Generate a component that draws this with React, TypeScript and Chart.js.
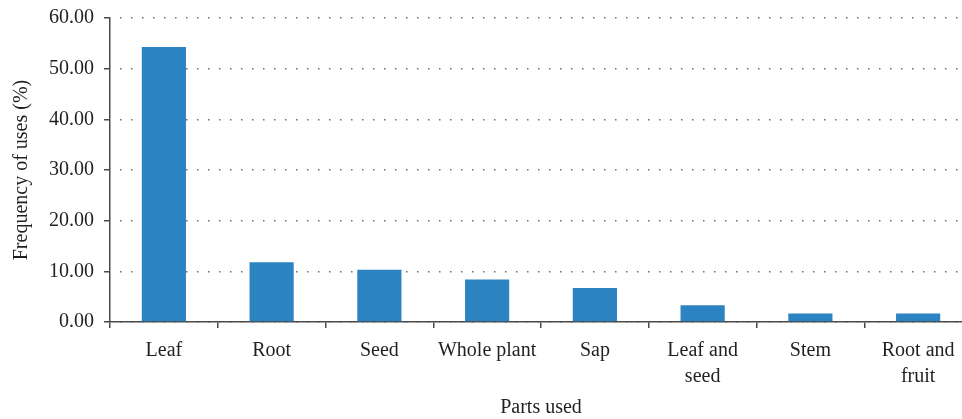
import React, { useEffect, useRef } from "react";
import { Chart, registerables } from "chart.js";

Chart.register(...registerables);

const categories: (string | string[])[] = [
  "Leaf",
  "Root",
  "Seed",
  "Whole plant",
  "Sap",
  ["Leaf and", "seed"],
  "Stem",
  ["Root and", "fruit"],
];
const frequencies: number[] = [54.3, 11.8, 10.3, 8.4, 6.7, 3.3, 1.7, 1.7];
const yTicks: number[] = [0, 10, 20, 30, 40, 50, 60];

const FONT = "'Liberation Serif', 'Times New Roman', serif";
const TEXT = "#231f20";
const AXIS = "#4a4a4a";

export default function App() {
  const ref = useRef<HTMLCanvasElement | null>(null);

  useEffect(() => {
    if (!ref.current) return;
    const chart = new Chart(ref.current, {
      type: "bar",
      data: {
        labels: categories,
        datasets: [
          {
            data: frequencies,
            backgroundColor: "#2c83c2",
            borderWidth: 0,
            barPercentage: 0.41,
            categoryPercentage: 1,
          },
        ],
      },
      options: {
        responsive: false,
        animation: false,
        devicePixelRatio: 1,
        layout: { padding: { top: 18, left: 0, right: 0, bottom: 0 } },
        plugins: { legend: { display: false }, tooltip: { enabled: false } },
        scales: {
          x: {
            offset: true,
            grid: {
              display: true,
              drawOnChartArea: false,
              drawTicks: true,
              tickLength: 6,
              tickColor: AXIS,
              color: AXIS,
              lineWidth: 1.5,
            },
            border: { display: true, color: AXIS, width: 1.5 },
            ticks: {
              color: TEXT,
              padding: 10,
              maxRotation: 0,
              autoSkip: false,
              font: { family: FONT, size: 20, lineHeight: 1.3 },
            },
            title: {
              display: true,
              text: "Parts used",
              color: TEXT,
              padding: { top: 0, bottom: 0 },
              font: { family: FONT, size: 20, lineHeight: 1.1 },
            },
            afterFit: (s: any) => {
              s.height = 97;
              s.paddingLeft = 0;
              s.paddingRight = 0;
            },
          },
          y: {
            min: yTicks[0],
            max: yTicks[yTicks.length - 1],
            grid: {
              display: true,
              drawOnChartArea: true,
              drawTicks: true,
              tickLength: 6,
              tickColor: AXIS,
              tickBorderDash: [],
              tickWidth: 1.5,
              color: "#6e6e6e",
              lineWidth: 1.5,
            },
            border: { display: true, color: AXIS, width: 1.5, dash: [1.5, 9.5], dashOffset: 1.5 },
            afterBuildTicks: (s: any) => {
              s.ticks = yTicks.map((v) => ({ value: v }));
            },
            ticks: {
              color: TEXT,
              padding: 10,
              font: { family: FONT, size: 20 },
              callback: (v: any) => Number(v).toFixed(2),
            },
            title: {
              display: true,
              text: "Frequency of uses (%)",
              color: TEXT,
              padding: { top: 10, bottom: 0 },
              font: { family: FONT, size: 20, lineHeight: 1.2 },
            },
            afterFit: (s: any) => {
              s.width = 110;
              s.paddingTop = 0;
              s.paddingBottom = 0;
            },
          },
        },
      },
    });
    return () => chart.destroy();
  }, []);

  return (
    <div
      style={{
        position: "fixed",
        left: 0,
        top: 0,
        width: 962,
        height: 419,
        overflow: "hidden",
        background: "#fff",
      }}
    >
      <canvas ref={ref} width={972} height={419} style={{ display: "block" }} />
    </div>
  );
}
